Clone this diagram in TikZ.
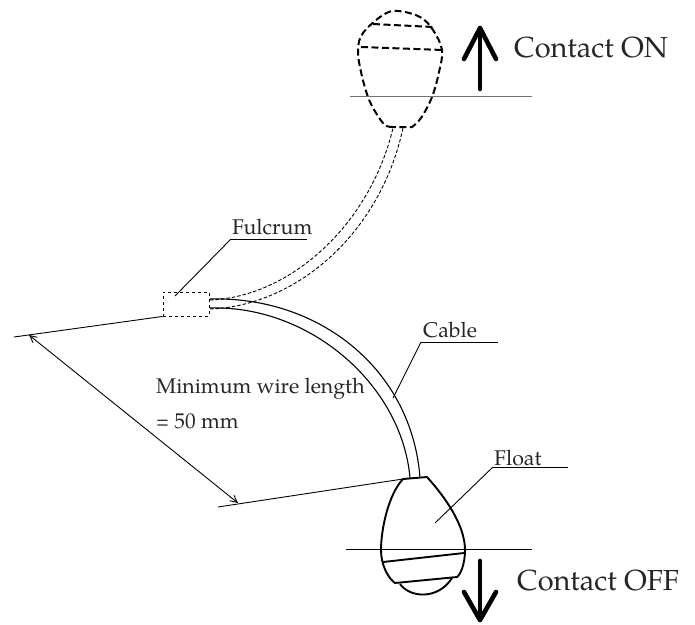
\documentclass[tikz,border=0pt]{standalone}
\usepackage{fontspec}
\usepackage{graphicx}
\setmainfont{TeX Gyre Pagella}
\usetikzlibrary{arrows.meta}
\tikzset{
 thin line/.style={line width=0.9pt,black},
 grayline/.style={line width=1pt,black!55},
 body/.style={line width=1.9pt,black,line join=round},
 dbody/.style={line width=2pt,black,dash pattern=on 7pt off 3.5pt},
 cable/.style={line width=1.1pt,black},
 dcable/.style={line width=0.9pt,black,dash pattern=on 3.5pt off 2pt},
 bigarrow/.style={line width=4.6pt,black,line cap=round,line join=round},
 lab/.style={font=\fontsize{21.3pt}{24pt}\selectfont,text=black!85,inner sep=0pt,anchor=base west},
 biglab/.style={font=\fontsize{29pt}{32pt}\selectfont,text=black!85,inner sep=0pt,anchor=base west},
}
\begin{document}
\begin{tikzpicture}[x=1pt,y=-1pt]
\useasboundingbox (0,0) rectangle (695,624);
% upper float (dashed)
\draw[dbody] plot[smooth,tension=0.6] coordinates {(393,127) (385,125) (376,113) (368,97) (361,72) (358,50) (363,33) (383,15) (398,11) (420,17) (433,30) (442,50) (439,72) (432,97) (421,118) (412,127)} -- cycle;
\draw[dbody] (373,24) -- (433,27);
\draw[dbody] (361,47) -- (443,50);
\draw[grayline] (350,96) coordinate (wu1) -- (532,96) coordinate (wu2);
% up arrow
\coordinate (au1) at (480,89);
\coordinate (au2) at (480,28);
\draw[bigarrow] (au1) -- (au2);
\draw[bigarrow] (464,59) -- (au2) -- (496,59);
\node[biglab] (con) at (514,57) {Contact ON};
% dashed cable
\draw[dcable] (210,300) .. controls (290,297) and (370,225) .. (393,128);
\draw[dcable] (210,309) .. controls (295,306) and (380,235) .. (403,128);
% fulcrum
\node[draw,dashed,line width=0.9pt,minimum width=46pt,minimum height=24pt,inner sep=0pt] (fulcrum) at (186,304) {};
\node[lab] (fl) at (232,234) {Fulcrum};
\coordinate (fa) at (231,239);
\draw[thin line] (fa) -- (307,239);
\draw[thin line] (fa) -- (175,296);
% solid cable
\draw[cable] (210,299) .. controls (320,296) and (412,370) .. (420,478);
\draw[cable] (210,308) .. controls (310,305) and (402,385) .. (410,478);
% lower float
\draw[body] (403,479) -- (427,477) .. controls (445,497) and (465,525) .. (465,550) .. controls (465,565) and (460,575) .. (457,577) -- (395,583) .. controls (388,578) and (381,565) .. (381,550) .. controls (381,530) and (388,495) .. (403,479) -- cycle;
\draw[body] (383,562) -- (464,553);
\draw[body] (400,584) .. controls (410,598) and (438,600) .. (452,578);
% Float label
\node[lab] (flt) at (494,465) {Float};
\coordinate (fb) at (493,467);
\draw[thin line] (fb) -- (568,467);
\draw[thin line] (fb) -- (435,523);
\draw[thin line] (346,549) -- (532,549);
% Cable label
\node[lab] (cb) at (423,337) {Cable};
\coordinate (cc) at (421,342);
\draw[thin line] (cc) -- (498,342);
\draw[thin line] (cc) -- (393,398);
% extension lines
\coordinate (e1) at (14,337);
\coordinate (e2) at (218,507);
\draw[thin line] (e1) -- (fulcrum.south west);
\draw[thin line] (e2) -- (403,479);
\coordinate (d1) at (29,335);
\coordinate (d2) at (238,503);
\draw[thin line,{Straight Barb[length=7pt,width=7pt]}-{Straight Barb[length=7pt,width=7pt]}] (d1) -- (d2);
\node[lab] (ml) at (156,393) {Minimum wire length};
\node[lab] (mm) at (156,428) {\scalebox{0.8}[1]{=} 50 mm};
% down arrow
\coordinate (ad1) at (480,561);
\coordinate (ad2) at (480,620);
\draw[bigarrow] (ad1) -- (ad2);
\draw[bigarrow] (464,592) -- (ad2) -- (496,592);
\node[biglab] (coff) at (517,590) {Contact OFF};
\end{tikzpicture}
\end{document}
